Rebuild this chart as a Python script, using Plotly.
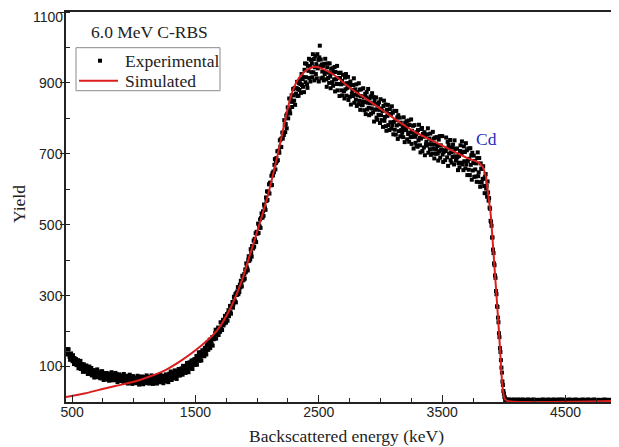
import plotly.graph_objects as go

# ---------------- data ----------------
# Experimental spectrum on a uniform channel grid (keV per channel)
EXP_START_KEV = 456
EXP_STEP_KEV = 4
exp_yield = [
    # 456-612
    149, 134, 148, 136, 149, 135, 127, 119, 135, 137, 123, 126, 115, 132, 119, 107, 124, 119, 109, 121,
    104, 116, 108, 118, 95, 113, 105, 100, 116, 93, 104, 97, 107, 85, 102, 106, 96, 89, 98, 85,
    # 616-772
    103, 94, 87, 79, 98, 86, 100, 80, 91, 86, 96, 75, 89, 87, 76, 90, 69, 86, 78, 81,
    76, 86, 92, 70, 77, 82, 72, 86, 67, 79, 76, 67, 87, 71, 81, 62, 74, 81, 65, 69,
    # 776-932
    67, 82, 75, 63, 71, 79, 60, 75, 80, 64, 71, 84, 67, 61, 75, 71, 78, 62, 67, 82,
    72, 64, 78, 56, 76, 68, 73, 78, 60, 68, 59, 73, 64, 75, 68, 57, 79, 64, 71, 60,
    # 936-1092
    56, 69, 63, 74, 52, 71, 64, 60, 77, 55, 67, 61, 72, 51, 68, 73, 63, 57, 67, 54,
    66, 53, 69, 59, 74, 62, 55, 49, 67, 71, 58, 63, 54, 72, 61, 50, 69, 65, 57, 70,
    # 1096-1252
    58, 69, 75, 53, 61, 66, 57, 71, 52, 65, 63, 55, 75, 59, 70, 51, 64, 71, 56, 60,
    73, 65, 59, 52, 72, 61, 76, 56, 68, 64, 76, 56, 71, 69, 59, 74, 53, 71, 63, 67,
    # 1256-1412
    61, 78, 71, 58, 68, 76, 56, 74, 80, 64, 71, 86, 68, 62, 79, 75, 82, 67, 73, 89,
    80, 72, 88, 65, 87, 80, 86, 93, 75, 84, 75, 91, 82, 95, 88, 77, 102, 86, 94, 84,
    # 1416-1572
    97, 82, 102, 92, 110, 97, 90, 84, 106, 112, 97, 105, 95, 117, 104, 93, 117, 113, 105, 121,
    105, 121, 114, 130, 105, 129, 122, 119, 140, 116, 131, 126, 140, 117, 139, 146, 135, 130, 142, 129,
    # 1576-1732
    153, 146, 140, 134, 160, 149, 169, 147, 164, 161, 176, 152, 173, 172, 163, 183, 159, 183, 177, 184,
    179, 194, 204, 179, 191, 200, 191, 210, 189, 207, 206, 198, 225, 208, 223, 203, 222, 232, 216, 223,
    # 1736-1892
    222, 243, 236, 224, 236, 248, 229, 250, 259, 242, 253, 271, 253, 249, 271, 271, 282, 266, 276, 297,
    289, 284, 304, 281, 308, 302, 312, 324, 304, 318, 310, 331, 323, 342, 337, 326, 356, 343, 354, 345,
    # 1896-2052
    361, 348, 374, 366, 391, 380, 375, 371, 401, 411, 398, 410, 402, 431, 420, 410, 440, 439, 433, 455,
    438, 460, 456, 476, 451, 480, 476, 475, 503, 477, 498, 495, 515, 491, 519, 532, 522, 520, 538, 525,
    # 2056-2212
    557, 551, 546, 542, 577, 567, 594, 570, 593, 593, 614, 588, 617, 619, 611, 638, 612, 645, 639, 650,
    648, 669, 685, 656, 674, 688, 679, 707, 682, 708, 709, 703, 738, 720, 741, 719, 744, 760, 743, 755,
    # 2216-2372
    753, 795, 782, 761, 784, 808, 772, 813, 831, 800, 821, 856, 823, 814, 853, 847, 865, 832, 847, 883,
    865, 850, 886, 838, 885, 870, 885, 903, 863, 883, 864, 899, 880, 909, 897, 872, 925, 894, 911, 889,
    # 2376-2532
    916, 874, 937, 955, 902, 916, 954, 896, 886, 948, 934, 968, 914, 947, 904, 965, 930, 955, 916, 981,
    930, 967, 907, 944, 976, 925, 953, 913, 981, 941, 965, 904, 972, 1005, 947, 966, 913, 952, 932, 915,
    # 2536-2692
    948, 907, 954, 925, 968, 931, 910, 889, 944, 955, 914, 929, 900, 955, 918, 885, 940, 927, 902, 941,
    892, 931, 910, 945, 876, 931, 910, 897, 948, 879, 914, 897, 928, 863, 914, 929, 896, 879, 906, 865,
    # 2696-2852
    923, 898, 877, 856, 915, 882, 925, 864, 899, 886, 917, 852, 899, 890, 861, 904, 839, 894, 869, 880,
    863, 894, 913, 844, 867, 882, 853, 896, 835, 874, 865, 840, 899, 850, 881, 824, 863, 882, 837, 848,
    # 2856-3012
    838, 885, 860, 823, 846, 869, 812, 859, 874, 825, 844, 883, 830, 809, 856, 843, 862, 813, 828, 871,
    842, 817, 860, 791, 850, 825, 840, 859, 802, 825, 796, 839, 810, 845, 824, 787, 854, 809, 828, 795,
    # 3016-3172
    821, 776, 835, 850, 793, 804, 839, 778, 765, 824, 807, 838, 781, 812, 767, 826, 789, 812, 771, 834,
    781, 816, 755, 790, 821, 768, 795, 754, 821, 780, 803, 742, 809, 764, 783, 802, 749, 788, 767, 750,
    # 3176-3332
    761, 776, 747, 803, 767, 733, 788, 776, 767, 792, 741, 780, 756, 794, 734, 781, 760, 747, 797, 728,
    765, 748, 779, 715, 759, 781, 748, 731, 756, 723, 761, 720, 767, 738, 782, 745, 724, 704, 743, 770,
    # 3336-3492
    773, 708, 756, 748, 718, 761, 696, 752, 727, 734, 723, 755, 772, 703, 727, 743, 713, 757, 697, 737,
    726, 701, 762, 714, 743, 687, 726, 746, 700, 712, 747, 722, 701, 681, 740, 707, 750, 689, 724, 712,
    # 3496-3652
    711, 750, 698, 677, 705, 709, 709, 682, 708, 746, 715, 690, 734, 666, 726, 701, 717, 739, 682, 704,
    675, 718, 691, 726, 706, 670, 738, 693, 714, 681, 683, 715, 691, 654, 674, 694, 662, 708, 724, 675,
    # 3656-3812
    700, 735, 670, 706, 654, 721, 679, 705, 659, 730, 670, 710, 640, 680, 715, 655, 686, 640, 716, 669,
    696, 627, 703, 653, 674, 695, 635, 680, 656, 636, 673, 621, 688, 704, 637, 648, 688, 620, 607, 673,
    # 3816-3972
    658, 619, 658, 629, 665, 630, 609, 589, 635, 643, 602, 610, 579, 622, 591, 568, 575, 548, 545, 511,
    508, 497, 464, 464, 430, 420, 391, 386, 357, 350, 313, 304, 270, 268, 238, 225, 194, 183, 152, 141,
    # 3976-4132
    118, 97, 83, 58, 48, 31, 24, 15, 12, 8, 6, 7, 4, 5, 6, 3, 5, 7, 4, 6,
    3, 5, 4, 6, 2, 5, 7, 4, 3, 6, 5, 4, 6, 3, 5, 7, 2, 4, 6, 5,
    # 4136-4292
    4, 6, 3, 5, 7, 4, 5, 2, 6, 4, 5, 3, 6, 5, 4, 7, 3, 5, 6, 4,
    2, 5, 6, 4, 3, 5, 7, 4, 6, 3, 5, 4, 2, 6, 5, 3, 4, 6, 5, 4,
    # 4296-4452
    5, 3, 6, 4, 5, 7, 3, 4, 6, 5, 2, 4, 6, 3, 5, 4, 7, 5, 3, 6,
    4, 5, 3, 6, 4, 2, 5, 7, 4, 3, 6, 5, 4, 3, 5, 6, 4, 7, 3, 5,
    # 4456-4612
    6, 4, 5, 3, 7, 4, 5, 6, 3, 4, 5, 2, 6, 4, 5, 3, 6, 5, 4, 7,
    3, 5, 4, 6, 5, 3, 4, 6, 2, 5, 4, 7, 5, 3, 6, 4, 5, 3, 6, 4,
    # 4616-4772
    4, 5, 3, 6, 4, 5, 7, 3, 5, 4, 6, 2, 5, 4, 6, 3, 5, 7, 4, 3,
    5, 6, 4, 3, 5, 4, 6, 2, 5, 7, 3, 4, 6, 5, 3, 4, 5, 6, 4, 3,
    # 4776-4932
    5, 4, 6, 3, 5, 2, 4, 6, 5, 3, 7, 4, 5, 3, 6, 4, 5, 2, 6, 4,
    5, 3, 6, 4, 4, 5, 3, 6, 5, 4, 2, 5, 6, 3, 4, 5, 7, 3, 4, 5,
]
exp_energy = [EXP_START_KEV + EXP_STEP_KEV * i for i in range(len(exp_yield))]

# Simulated spectrum
sim_energy = [451, 600, 730, 850, 1000, 1130, 1257, 1390, 1541, 1676, 1784, 1879, 1946,
              2013, 2081, 2163, 2216, 2270, 2325, 2380, 2432, 2490, 2540, 2622, 2757,
              2892, 3027, 3163, 3298, 3433, 3568, 3704, 3785, 3825, 3852, 3871, 3893,
              3920, 3960, 3987, 4005, 4030, 4933]
sim_yield = [14, 24, 35, 45, 57, 72, 90, 118, 157, 202, 265, 345, 420,
             495, 575, 692, 777, 858, 906, 930, 942, 945, 938, 923, 885,
             853, 820, 787, 758, 735, 711, 688, 677, 665, 638, 590, 530,
             400, 200, 50, 10, 3, 3]

x_tick_vals = [500, 1500, 2500, 3500, 4500]
x_tick_text = ["500", "1500", "2500", "3500", "4500"]
y_tick_vals = [100, 300, 500, 700, 900, 1100]
# the top label (1100) sits on the frame edge; it is drawn as an annotation
# nudged slightly down so it is not clipped by the page edge
y_tick_text = ["100", "300", "500", "700", "900", ""]
y_top_label = "1100"

# ---------------- geometry helpers (page px -> paper) ----------------
# The page body has an 8px margin; figure is sized so the plot area sits at
# page x 66..619, y 12..402.
PX0, PW = 66.0, 553.0
PY0, PH = 402.0, 390.0


def px(xp):
    return (xp - PX0) / PW


def py(yp):
    return (PY0 - yp) / PH


SERIF = "Liberation Serif, Times New Roman, serif"
SANS = "Liberation Sans, Arial, sans-serif"
AX = "#222"

fig = go.Figure()
fig.add_trace(go.Scatter(
    x=exp_energy, y=exp_yield, mode="markers", name="Experimental",
    marker=dict(symbol="square", size=4, color="black", line=dict(width=0)),
    showlegend=False,
))
fig.add_trace(go.Scatter(
    x=sim_energy, y=sim_yield, mode="lines", name="Simulated",
    line=dict(color="rgb(218,30,30)", width=2, shape="spline", smoothing=0.6),
    showlegend=False,
))

shapes = [
    # legend box
    dict(type="rect", xref="paper", yref="paper", x0=px(76), x1=px(220), y0=py(90.7), y1=py(47.7),
         line=dict(color="#8a8a8a", width=1), fillcolor="white", layer="above"),
    # legend symbol: experimental marker
    dict(type="rect", xref="paper", yref="paper", x0=px(98), x1=px(102), y0=py(62.7), y1=py(58.7),
         line=dict(width=0), fillcolor="black", layer="above"),
    # legend symbol: simulated line
    dict(type="line", xref="paper", yref="paper", x0=px(79), x1=px(118), y0=py(80.7), y1=py(80.7),
         line=dict(color="rgb(218,30,30)", width=2), layer="above"),
]

fig.update_layout(
    width=611, height=439,
    margin=dict(l=58, r=0, t=4, b=45, autoexpand=False),
    paper_bgcolor="white", plot_bgcolor="white",
    showlegend=False,
    xaxis=dict(
        range=[451, 4933], showgrid=False, zeroline=False, automargin=False,
        showline=True, linecolor=AX, linewidth=1.5, mirror=True,
        tickmode="array", tickvals=x_tick_vals, ticktext=x_tick_text,
        ticks="inside", ticklen=7, tickwidth=1, tickcolor=AX,
        ticklabelstandoff=-4, ticklabeloverflow="allow",
        tickfont=dict(family=SANS, size=14, color=AX),
        minor=dict(dtick=250, tick0=500, ticks="inside", ticklen=4, tickwidth=1, tickcolor=AX),
    ),
    yaxis=dict(
        range=[0, 1100], showgrid=False, zeroline=False, automargin=False,
        showline=True, linecolor=AX, linewidth=1.5, mirror=False,
        tickmode="array", tickvals=y_tick_vals, ticktext=y_tick_text,
        ticks="outside", ticklen=4, tickwidth=1, tickcolor=AX,
        ticklabelstandoff=-5, ticklabeloverflow="allow",
        tickfont=dict(family=SANS, size=14, color=AX),
        minor=dict(dtick=100, tick0=0, ticks="inside", ticklen=4, tickwidth=1, tickcolor=AX),
    ),
    shapes=shapes,
    annotations=[
        dict(text=y_top_label, xref="paper", yref="paper",
             x=px(63.5), y=py(17), xanchor="right", yanchor="middle", borderpad=0,
             showarrow=False, font=dict(family=SANS, size=14, color=AX)),
        dict(text="Backscattered energy (keV)", xref="paper", yref="paper",
             x=px(346), y=py(436), xanchor="center", yanchor="middle",
             showarrow=False, font=dict(family=SERIF, size=17.5, color=AX)),
        dict(text="Yield", xref="paper", yref="paper", textangle=-90,
             x=px(19), y=py(204), xanchor="center", yanchor="middle",
             showarrow=False, font=dict(family=SERIF, size=17.5, color=AX)),
        dict(text="6.0 MeV C-RBS", xref="paper", yref="paper",
             x=px(149), y=py(32), xanchor="center", yanchor="middle",
             showarrow=False, font=dict(family=SERIF, size=17.5, color=AX)),
        dict(text="Experimental", xref="paper", yref="paper",
             x=px(123), y=py(60.7), xanchor="left", yanchor="middle",
             showarrow=False, font=dict(family=SERIF, size=17.5, color=AX)),
        dict(text="Simulated", xref="paper", yref="paper",
             x=px(123), y=py(80.7), xanchor="left", yanchor="middle",
             showarrow=False, font=dict(family=SERIF, size=17.5, color=AX)),
        dict(text="Cd", xref="x", yref="y", x=3860, y=743,
             xanchor="center", yanchor="middle", showarrow=False,
             font=dict(family=SERIF, size=17.5, color="#2b2bb8")),
    ],
)

fig.write_html("out.html")
